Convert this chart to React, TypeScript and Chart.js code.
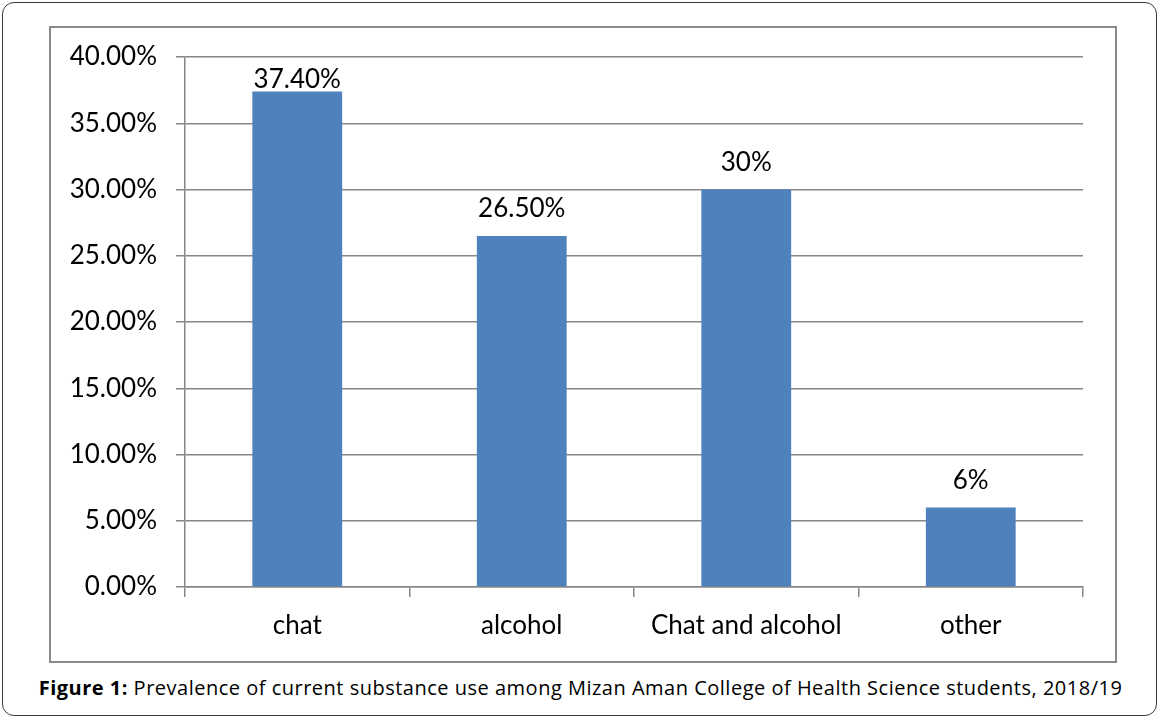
import React, { useEffect, useRef } from "react";
import { Chart, registerables } from "chart.js";

Chart.register(...registerables);

const categories = ["chat", "alcohol", "Chat and alcohol", "other"];
const values = [0.374, 0.265, 0.3, 0.06];
const valueLabels = ["37.40%", "26.50%", "30%", "6%"];
const yMin = 0;
const yMax = 0.4;
const yStep = 0.05;

const FONT = "Lato, 'Open Sans', sans-serif";
const GRID = "#878787";

const labelPlugin = {
  id: "barLabels",
  afterDatasetsDraw(chart: any) {
    const ctx = chart.ctx;
    const meta = chart.getDatasetMeta(0);
    const area = chart.chartArea;
    ctx.save();
    ctx.font = `26px ${FONT}`;
    ctx.fillStyle = "#000";
    ctx.textAlign = "center";
    ctx.textBaseline = "alphabetic";
    meta.data.forEach((el: any, i: number) => {
      const y = Math.max(el.y - 19, area.top + 31);
      ctx.fillText(valueLabels[i], el.x, y);
    });
    ctx.restore();
  },
};

export default function App() {
  const ref = useRef<HTMLCanvasElement | null>(null);
  useEffect(() => {
    if (!ref.current) return;
    const chart = new Chart(ref.current, {
      type: "bar",
      data: {
        labels: categories,
        datasets: [
          {
            data: values,
            backgroundColor: "#4F81BD",
            borderWidth: 0,
            barPercentage: 0.4,
            categoryPercentage: 1,
          },
        ],
      },
      options: {
        animation: false,
        responsive: false,
        maintainAspectRatio: false,
        devicePixelRatio: 1,
        layout: { padding: { top: 30, right: 32, left: 0, bottom: 0 } },
        plugins: {
          legend: { display: false },
          tooltip: { enabled: false },
          title: { display: false },
        },
        scales: {
          x: {
            offset: true,
            grid: {
              offset: true,
              drawOnChartArea: false,
              drawTicks: true,
              tickLength: 10,
              color: GRID,
              lineWidth: 1.5,
            },
            border: { display: true, color: GRID, width: 1.5 },
            ticks: {
              color: "#000",
              font: { family: FONT, size: 26 },
              padding: 13,
              maxRotation: 0,
              autoSkip: false,
            },
            afterFit(scale: any) {
              scale.height = 74;
              scale.paddingLeft = 0;
              scale.paddingRight = 0;
            },
          },
          y: {
            min: yMin,
            max: yMax,
            grid: {
              color: GRID,
              lineWidth: 1.5,
              tickLength: 9,
              drawTicks: true,
            },
            border: { display: true, color: GRID, width: 1.5 },
            ticks: {
              stepSize: yStep,
              color: "#000",
              font: { family: FONT, size: 26 },
              padding: 19,
              callback: (v: any) => (Number(v) * 100).toFixed(2) + "%",
            },
            afterFit(scale: any) {
              scale.width = 135;
              scale.paddingTop = 0;
              scale.paddingBottom = 0;
            },
          },
        },
      },
      plugins: [labelPlugin],
    });
    return () => chart.destroy();
  }, []);

  return (
    <div
      style={{
        position: "fixed",
        left: 0,
        top: 0,
        width: 1161,
        height: 720,
        background: "#fff",
        fontFamily: FONT,
      }}
    >
      <div
        style={{
          position: "absolute",
          left: 2,
          top: 2,
          width: 1155,
          height: 714,
          border: "1.5px solid #3a3a3a",
          borderRadius: 12,
          boxSizing: "border-box",
        }}
      />
      <div
        style={{
          position: "absolute",
          left: 49,
          top: 26,
          width: 1068,
          height: 637,
          border: "2px solid #8a8a8a",
          boxSizing: "border-box",
        }}
      />
      <canvas
        ref={ref}
        width={1065}
        height={634}
        style={{ position: "absolute", left: 50, top: 27, width: 1065, height: 634 }}
      />
      <div
        style={{
          position: "absolute",
          left: 0,
          width: 1161,
          top: 674,
          textAlign: "center",
          fontFamily: "'Open Sans', sans-serif",
          fontSize: 20,
          letterSpacing: 0.5,
          color: "#000",
          whiteSpace: "nowrap",
        }}
      >
        <b>Figure 1:</b> Prevalence of current substance use among Mizan Aman College of Health Science students, 2018/19
      </div>
    </div>
  );
}
